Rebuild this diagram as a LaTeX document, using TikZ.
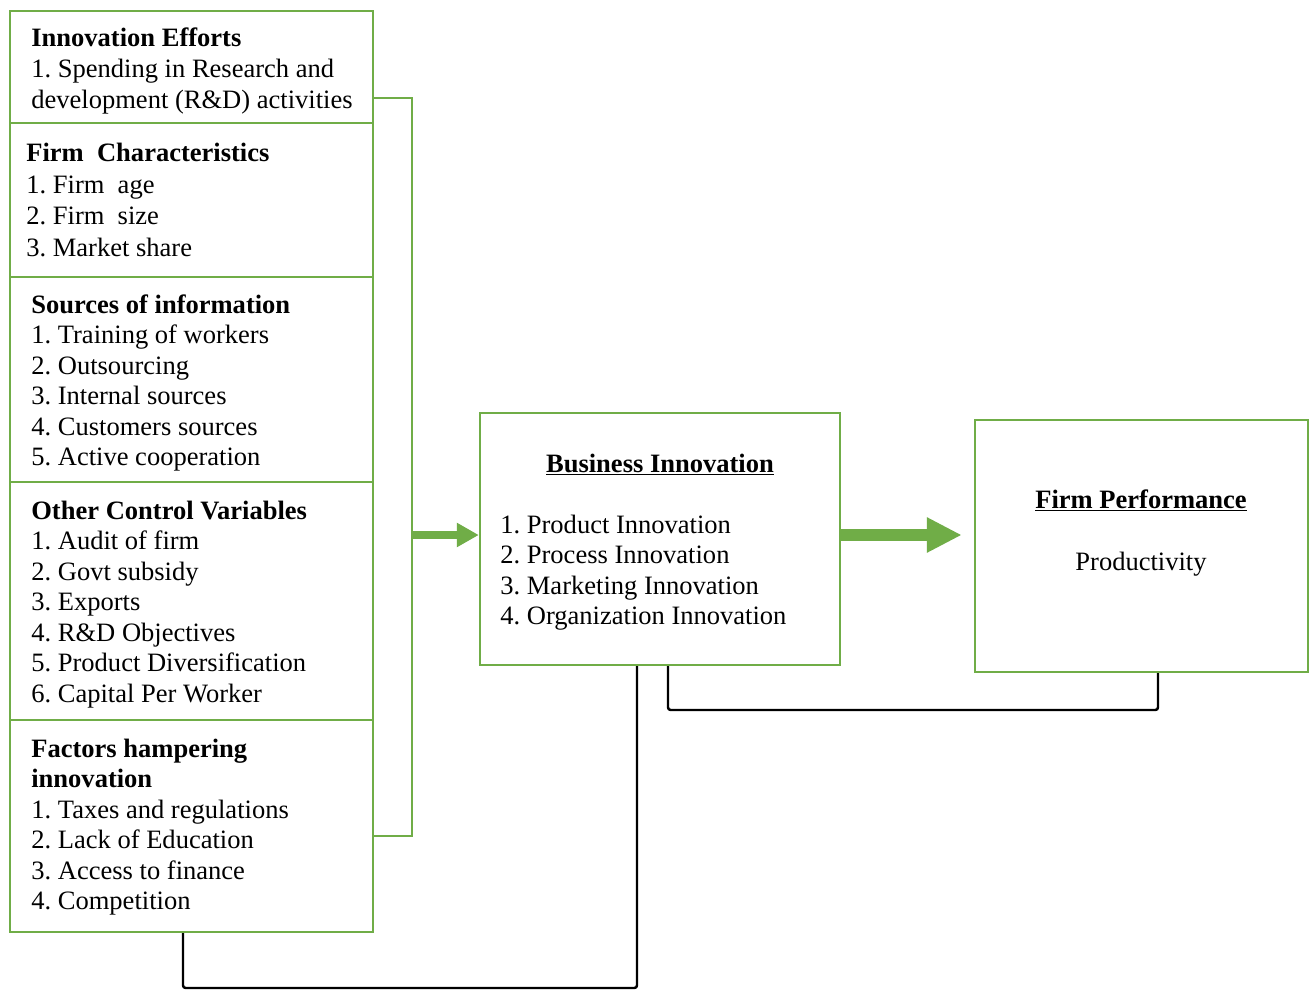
\documentclass[tikz,border=0pt]{standalone}
\usepackage{fontspec}
\setmainfont{Liberation Serif}
\usetikzlibrary{arrows.meta,fit}
\definecolor{gr}{HTML}{70AD47}
\newcommand\dfont{\fontsize{15.1}{17.4}\selectfont\frenchspacing}
\begin{document}
\begin{tikzpicture}[x=0.02cm,y=-0.02cm,
  gbox/.style={draw=gr, line width=1.4pt, inner sep=0pt, rectangle},
  txt/.style={anchor=base west, inner sep=0pt, font=\dfont},
  ctxt/.style={anchor=base, inner sep=0pt, font=\dfont},
  gline/.style={draw=gr, line width=1.4pt},
  garrowA/.style={draw=gr, line width=4pt, -{Triangle[length=0.44cm,width=0.46cm]}},
  garrowB/.style={draw=gr, line width=6.8pt, -{Triangle[length=0.7cm,width=0.66cm]}},
  bline/.style={draw=black, line width=1.4pt, rounded corners=1.5pt}]
\useasboundingbox[fill=white] (0,0) rectangle (1309,990);

% boxes
\node[gbox, fit={(10,11)(373,123)}] (ie) {};
\node[gbox, fit={(10,123)(373,277)}] (fc) {};
\node[gbox, fit={(10,277)(373,482)}] (si) {};
\node[gbox, fit={(10,482)(373,720)}] (oc) {};
\node[gbox, fit={(10,720)(373,932)}] (fh) {};
\node[gbox, fit={(480,413)(840,665)}] (bi) {};
\node[gbox, fit={(975,420)(1308,672)}] (fp) {};

% texts
\node[txt] (tie) at (31,47) {\begin{tabular}[t]{@{}l@{}}\textbf{Innovation Efforts}\\1. Spending in Research and\\development (R\&D) activities\end{tabular}};
\node[txt] (tfc) at (26,162) {\renewcommand\arraystretch{1.03}\begin{tabular}[t]{@{}l@{}}\textbf{Firm~~Characteristics}\\1. Firm~~age\\2. Firm~~size\\3. Market share\end{tabular}};
\node[txt] (tsi) at (31,313) {\begin{tabular}[t]{@{}l@{}}\textbf{Sources of information}\\1. Training of workers\\2. Outsourcing\\3. Internal sources\\4. Customers sources\\5. Active cooperation\end{tabular}};
\node[txt] (toc) at (31,519) {\begin{tabular}[t]{@{}l@{}}\textbf{Other Control Variables}\\1. Audit of firm\\2. Govt subsidy\\3. Exports\\4. R\&D Objectives\\5. Product Diversification\\6. Capital Per Worker\end{tabular}};
\node[txt] (tfh) at (31,757) {\begin{tabular}[t]{@{}l@{}}\textbf{Factors hampering}\\\textbf{innovation}\\1. Taxes and regulations\\2. Lack of Education\\3. Access to finance\\4. Competition\end{tabular}};
\node[ctxt] (tbi) at (660,472) {\textbf{\underline{Business Innovation}}};
\node[txt] (tbil) at (500,533) {\begin{tabular}[t]{@{}l@{}}1. Product Innovation\\2. Process Innovation\\3. Marketing Innovation\\4. Organization Innovation\end{tabular}};
\node[ctxt] (tfp) at (1141,508) {\textbf{\underline{Firm Performance}}};
\node[ctxt] (tpr) at (1141,570) {Productivity};

% green bracket and arrows
\coordinate (b1) at (412,98);
\coordinate (b2) at (412,836);
\coordinate (jn) at (412,535);
\draw[gline] (ie.east |- b1) -- (b1) -- (b2) -- (fh.east |- b2);
\draw[garrowA] (jn) -- (bi.west |- jn);
\draw[garrowB, shorten >=0.24cm] (bi.east |- jn) -- (fp.west |- jn);

% black connectors
\coordinate (c1) at (183,988);
\coordinate (c2) at (637,988);
\draw[bline] (fh.south -| c1) -- (c1) -- (c2) -- (bi.south -| c2);
\coordinate (d1) at (668,710);
\coordinate (d2) at (1158,710);
\draw[bline] (bi.south -| d1) -- (d1) -- (d2) -- (fp.south -| d2);
\end{tikzpicture}
\end{document}
